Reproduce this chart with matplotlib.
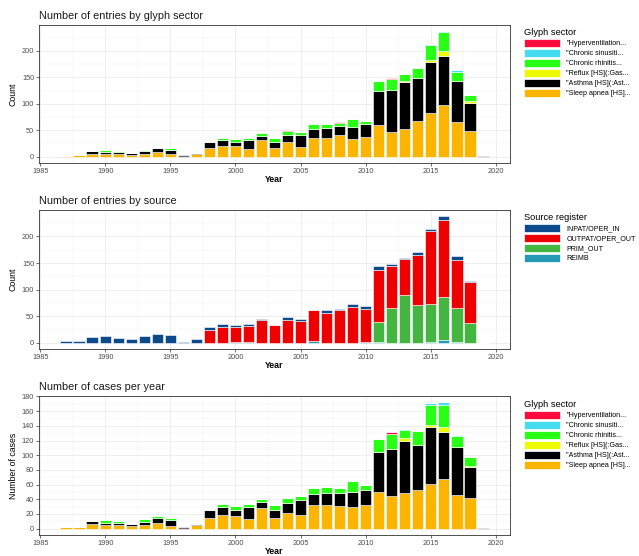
import numpy as np
import matplotlib
matplotlib.use('Agg')
from matplotlib import pyplot as plt
from matplotlib.patches import Patch
from matplotlib.ticker import MultipleLocator

plt.rcParams['font.family'] = ['Liberation Sans', 'DejaVu Sans']

years = list(range(1987, 2020))

# entries by glyph sector (bottom -> top of stack)
ent_sleep  = [2, 3, 6, 6, 6, 4, 6, 8, 5, 0, 6, 16, 20, 21, 14, 31, 16, 27, 18, 36, 36, 41, 33, 37, 59, 46, 53, 68, 82, 98, 66, 48, 0]
ent_asthma = [0, 0, 4, 3, 3, 3, 4, 8, 8, 0, 1, 12, 11, 7, 17, 9, 11, 14, 23, 17, 19, 17, 24, 24, 66, 80, 88, 80, 97, 93, 78, 53, 0]
ent_reflux = [0, 0, 0, 0, 0, 0, 0, 0, 0, 0, 0, 0, 0, 0, 0, 0, 0, 0, 0, 0, 0, 0, 0, 0, 0, 0, 3, 0, 3, 8, 0, 5, 0]
ent_rhin   = [0, 0, 0, 3, 1, 0, 3, 1, 3, 0, 0, 0, 5, 6, 4, 4, 8, 7, 5, 8, 7, 6, 15, 7, 18, 21, 12, 19, 29, 37, 17, 10, 0]
ent_sinus  = [0, 0, 0, 0, 0, 0, 0, 0, 0, 0, 0, 0, 0, 0, 0, 0, 0, 0, 0, 0, 0, 0, 0, 0, 0, 0, 1, 0, 2, 1, 2, 0, 0]
ent_hyper  = [0, 0, 0, 0, 0, 0, 0, 0, 0, 0, 0, 0, 0, 0, 0, 0, 0, 2, 0, 0, 0, 2, 0, 0, 0, 2, 0, 0, 0, 0, 0, 0, 0]
ent_na     = [0, 0, 0, 0, 0, 0, 0, 0, 0, 3, 0, 0, 0, 0, 0, 0, 0, 0, 0, 0, 0, 0, 0, 0, 0, 0, 0, 0, 0, 0, 0, 0, 2]

# entries by source register (bottom -> top of stack)
src_reimb  = [0, 0, 0, 0, 0, 0, 0, 0, 0, 0, 0, 0, 0, 2, 2, 0, 0, 0, 0, 3, 0, 0, 0, 2, 2, 0, 0, 0, 2, 5, 2, 0, 0]
src_prim   = [0, 0, 0, 0, 0, 0, 0, 0, 0, 0, 0, 0, 0, 0, 0, 0, 0, 0, 0, 0, 0, 0, 0, 0, 37, 66, 89, 71, 70, 81, 63, 37, 0]
src_outpat = [0, 0, 0, 0, 0, 0, 0, 0, 0, 0, 0, 24, 29, 28, 30, 42, 33, 42, 40, 59, 56, 62, 68, 62, 98, 78, 68, 95, 139, 146, 91, 78, 0]
src_inpat  = [3, 3, 10, 12, 9, 7, 12, 17, 15, 2, 7, 5, 7, 3, 3, 2, 1, 6, 4, 0, 6, 2, 4, 5, 7, 5, 2, 4, 3, 6, 8, 1, 0]

# cases per year by glyph sector
cas_sleep  = [2, 2, 6, 5, 5, 3, 5, 8, 4, 0, 5, 15, 19, 17, 13, 28, 15, 22, 18, 32, 32, 31, 29, 32, 50, 44, 48, 52, 61, 67, 46, 42, 0]
cas_asthma = [0, 0, 4, 3, 3, 3, 4, 7, 8, 0, 2, 11, 11, 8, 16, 8, 10, 13, 21, 15, 16, 17, 21, 21, 54, 64, 72, 62, 78, 65, 65, 42, 0]
cas_reflux = [0, 0, 0, 0, 0, 0, 0, 0, 0, 0, 0, 0, 0, 0, 0, 0, 0, 0, 0, 0, 0, 0, 0, 0, 0, 0, 3, 0, 2, 7, 0, 2, 0]
cas_rhin   = [0, 0, 0, 4, 3, 0, 4, 2, 3, 0, 0, 0, 4, 6, 5, 4, 7, 7, 5, 8, 9, 7, 15, 7, 18, 21, 12, 19, 28, 30, 15, 11, 0]
cas_sinus  = [0, 0, 0, 0, 0, 0, 0, 0, 0, 0, 0, 0, 0, 0, 0, 0, 0, 0, 0, 0, 0, 0, 0, 0, 0, 0, 1, 0, 2, 3, 2, 0, 0]
cas_hyper  = [0, 0, 0, 0, 0, 0, 0, 0, 0, 0, 0, 0, 0, 0, 0, 0, 0, 0, 0, 0, 0, 0, 0, 0, 0, 2, 0, 0, 0, 0, 0, 0, 0]
cas_na     = [0, 0, 0, 0, 0, 0, 0, 0, 0, 2, 0, 0, 0, 0, 0, 0, 0, 0, 0, 0, 0, 0, 0, 0, 0, 0, 0, 0, 0, 0, 0, 0, 1]

glyph_labels = ['"Hyperventilation...', '"Chronic sinusiti...', '"Chronic rhinitis...',
                '"Reflux [HS](:Gas...', '"Asthma [HS](:Ast...', '"Sleep apnea [HS]...']
glyph_cols = ['#FF0A3C', '#45DCF2', '#27FF14', '#EEFA00', '#000000', '#FBB400']
source_labels = ['INPAT/OPER_IN', 'OUTPAT/OPER_OUT', 'PRIM_OUT', 'REIMB']
source_cols = ['#0D4A8C', '#EE0000', '#43B540', '#2399B5']
na_col = '#6E6E6E'


def stacked(ax, series, cols):
    bottom = np.zeros(len(years))
    for vals, c in zip(series, cols):
        v = np.array(vals, dtype=float)
        ax.bar(years, v, width=0.9, bottom=bottom, color=c, edgecolor='white', linewidth=0.4, zorder=3)
        bottom += v
    return bottom.max()


def style(ax, total, ymaj, ymin, title, ylab):
    ax.set_xlim(1984.9, 2021.1)
    ax.set_ylim(-0.05 * total, 1.05 * total)
    ax.xaxis.set_major_locator(MultipleLocator(5))
    ax.xaxis.set_minor_locator(MultipleLocator(2.5))
    ax.yaxis.set_major_locator(MultipleLocator(ymaj))
    ax.yaxis.set_minor_locator(MultipleLocator(ymin))
    ax.grid(which='major', color='#EBEBEB', linewidth=0.6, zorder=0)
    ax.grid(which='minor', color='#F2F2F2', linewidth=0.35, zorder=0)
    ax.tick_params(which='major', length=2.2, width=0.5, color='#333333', labelsize=5.3,
                   labelcolor='#4D4D4D', pad=1.2)
    ax.tick_params(which='minor', length=0)
    for s in ax.spines.values():
        s.set_color('#333333')
        s.set_linewidth(0.6)
    ax.set_title(title, loc='left', fontsize=7.8, color='#1A1A1A', pad=4)
    ax.set_xlabel('Year', fontsize=6.3, fontweight='bold', labelpad=0.5)
    ax.set_ylabel(ylab, fontsize=6.3, labelpad=3)


def legend(fig, ypos, title, labels, cols):
    handles = [Patch(facecolor=c, edgecolor='white', linewidth=0.5) for c in cols]
    lg = fig.legend(handles, labels, title=title, loc='upper left',
                    bbox_to_anchor=(524 / 639, ypos), frameon=False, borderpad=0,
                    borderaxespad=0, fontsize=5.1, title_fontsize=6.7, handlelength=5.1,
                    handleheight=1.4, handletextpad=0.85, labelspacing=0.22, alignment='left')
    return lg


fig = plt.figure(figsize=(6.39, 5.56), dpi=100)
W, H = 639, 556
ax1 = fig.add_axes([39 / W, 1 - 163 / H, 471 / W, 138 / H])
ax2 = fig.add_axes([39 / W, 1 - 349 / H, 471 / W, 139 / H])
ax3 = fig.add_axes([39 / W, 1 - 535 / H, 471 / W, 139 / H])

glyph_stack_cols = glyph_cols[::-1] + [na_col]

top1 = stacked(ax1, [ent_sleep, ent_asthma, ent_reflux, ent_rhin, ent_sinus, ent_hyper, ent_na], glyph_stack_cols)
style(ax1, top1, 50, 25, 'Number of entries by glyph sector', 'Count')

top2 = stacked(ax2, [src_reimb, src_prim, src_outpat, src_inpat], source_cols[::-1])
style(ax2, top2, 50, 25, 'Number of entries by source', 'Count')

top3 = stacked(ax3, [cas_sleep, cas_asthma, cas_reflux, cas_rhin, cas_sinus, cas_hyper, cas_na], glyph_stack_cols)
style(ax3, top3, 20, 10, 'Number of cases per year', 'Number of cases')

legend(fig, 1 - 28 / H, 'Glyph sector', glyph_labels, glyph_cols)
legend(fig, 1 - 213 / H, 'Source register', source_labels, source_cols)
legend(fig, 1 - 400 / H, 'Glyph sector', glyph_labels, glyph_cols)

fig.savefig('out.png', dpi=100)
